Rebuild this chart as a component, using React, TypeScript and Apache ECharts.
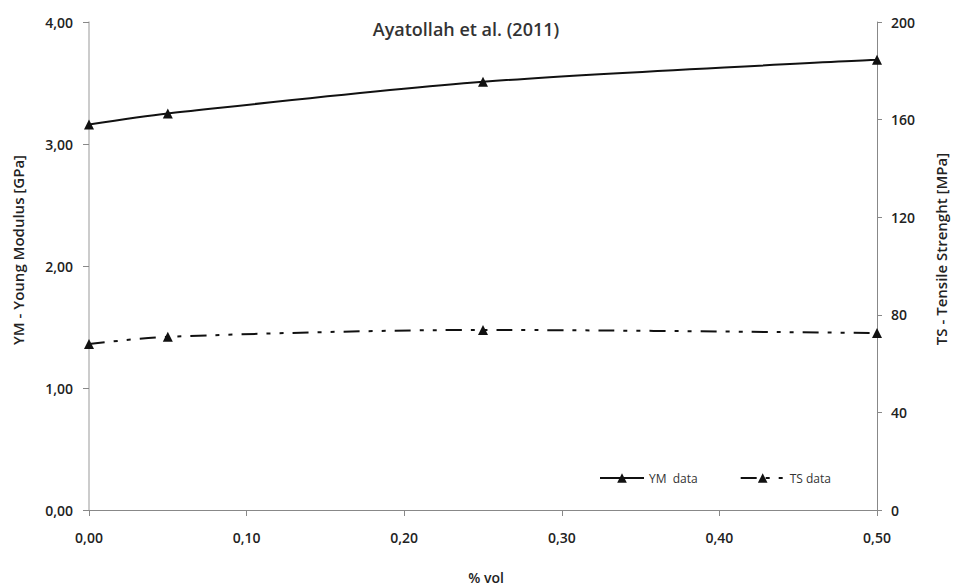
import React, { useEffect, useRef } from "react";
import * as echarts from "echarts";

const volFractions = [0.0, 0.05, 0.25, 0.5];
const ymData = [3.16, 3.25, 3.51, 3.69];
const tsData = [68, 71, 73.8, 72.5];

const titleText = "Ayatollah et al. (2011)";
const xName = "% vol";
const yLeftName = "YM - Young Modulus [GPa]";
const yRightName = "TS - Tensile Strenght [MPa]";
const ymLegend = "YM  data";
const tsLegend = "TS data";

const FONT = "'Open Sans', 'Noto Sans', sans-serif";
const comma = (d: number) => (v: number) => v.toFixed(d).replace(".", ",");

export default function App() {
  const ref = useRef<HTMLDivElement>(null);
  useEffect(() => {
    if (!ref.current) return;
    const chart = echarts.init(ref.current, undefined, { renderer: "svg" });
    const labelStyle = { color: "#222", fontSize: 14, fontFamily: FONT, fontWeight: 600 as const };
    const nameStyle = { fill: "#222", fontSize: 15, fontFamily: FONT, fontWeight: 600 as const };
    chart.setOption({
      animation: false,
      backgroundColor: "#fff",
      title: {
        text: titleText,
        left: 461,
        top: 15,
        textAlign: "center",
        textStyle: { fontFamily: FONT, fontSize: 18, fontWeight: 600, color: "#333" },
      },
      legend: {
        left: 594,
        top: 467,
        itemWidth: 44,
        itemHeight: 12,
        itemGap: 42,
        textStyle: { fontFamily: FONT, fontSize: 12, color: "#333" },
        data: [ymLegend, tsLegend],
      },
      graphic: [
        {
          type: "text",
          x: 18,
          y: 250,
          rotation: Math.PI / 2,
          style: { ...nameStyle, text: yLeftName, align: "center", verticalAlign: "middle" },
        },
        {
          type: "text",
          x: 941,
          y: 249,
          rotation: Math.PI / 2,
          style: { ...nameStyle, text: yRightName, align: "center", verticalAlign: "middle" },
        },
        {
          type: "text",
          x: 486,
          y: 577,
          style: { ...nameStyle, fontSize: 14, text: xName, align: "center", verticalAlign: "middle" },
        },
      ],
      grid: { left: 89, right: 76, top: 22, bottom: 76 },
      xAxis: {
        type: "value",
        min: 0,
        max: 0.5,
        interval: 0.1,
        axisLine: { lineStyle: { color: "#888", width: 1 } },
        axisTick: { show: true, length: 6, lineStyle: { color: "#888" } },
        axisLabel: { ...labelStyle, margin: 20, formatter: comma(2) },
        splitLine: { show: false },
      },
      yAxis: [
        {
          type: "value",
          min: 0,
          max: 4,
          interval: 1,
          axisLine: { show: true, lineStyle: { color: "#bbb", width: 1.5 } },
          axisTick: { show: true, length: 6, lineStyle: { color: "#888" } },
          axisLabel: { ...labelStyle, margin: 16, formatter: comma(2) },
          splitLine: { show: false },
        },
        {
          type: "value",
          min: 0,
          max: 200,
          interval: 40,
          position: "right",
          axisLine: { show: true, lineStyle: { color: "#888", width: 1 } },
          axisTick: { show: true, length: 5, lineStyle: { color: "#888" } },
          axisLabel: { ...labelStyle, margin: 14 },
          splitLine: { show: false },
        },
      ],
      series: [
        {
          name: ymLegend,
          type: "line",
          yAxisIndex: 0,
          smooth: 0.3,
          symbol: "triangle",
          symbolSize: 10,
          itemStyle: { color: "#111" },
          lineStyle: { color: "#111", width: 2 },
          data: volFractions.map((x, i) => [x, ymData[i]]),
        },
        {
          name: tsLegend,
          type: "line",
          yAxisIndex: 1,
          smooth: 0.3,
          symbol: "triangle",
          symbolSize: 10,
          itemStyle: { color: "#111" },
          lineStyle: { color: "#111", width: 2, type: [16, 9, 4, 9, 4, 9] },
          data: volFractions.map((x, i) => [x, tsData[i]]),
        },
      ],
    });
    return () => chart.dispose();
  }, []);
  return <div ref={ref} style={{ width: 953, height: 586, position: "absolute", left: 0, top: 0 }} />;
}
